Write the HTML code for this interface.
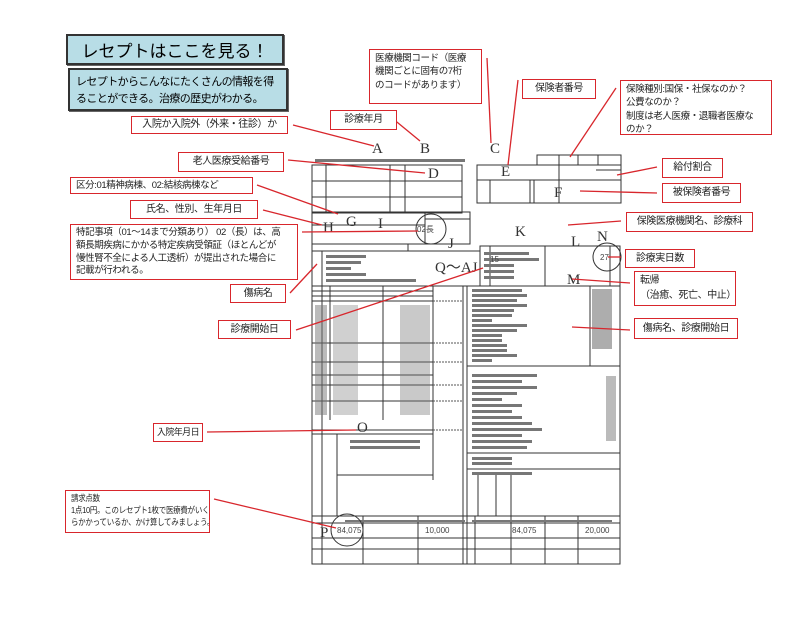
<!DOCTYPE html>
<html><head><meta charset="utf-8">
<style>
html,body{margin:0;padding:0;background:#fff;}
body{width:788px;height:619px;position:relative;overflow:hidden;font-family:"Liberation Sans","Noto Sans CJK JP",sans-serif;}
.b{position:absolute;border:1.5px solid #d8262c;background:#fff;font-size:10px;letter-spacing:-0.4px;color:#222;box-sizing:border-box;display:flex;align-items:center;justify-content:center;line-height:1.4;white-space:nowrap;overflow:hidden;}
.l{justify-content:flex-start;padding-left:5px;}
.w{display:block;padding:2px 2px 0 5px;}
.t{position:absolute;box-sizing:border-box;background:#b8dde6;border:2px solid #333;box-shadow:1px 1px 0 #666;}
svg{position:absolute;left:0;top:0;}
</style></head><body>
<div class="t" style="left:66px;top:34px;width:218px;height:31px;font-size:17px;display:flex;align-items:center;justify-content:center;">レセプトはここを見る！</div>
<div class="t" style="left:68px;top:68px;width:220px;height:43px;font-size:11px;letter-spacing:-0.6px;padding:4px 6px;line-height:1.5;white-space:nowrap;">レセプトからこんなにたくさんの情報を得<br>ることができる。治療の歴史がわかる。</div>

<svg width="788" height="619" viewBox="0 0 788 619">
<g stroke="#333" stroke-width="1" fill="none">
<rect x="312" y="165" width="150" height="48"/>
<line x1="312" y1="181" x2="462" y2="181"/><line x1="312" y1="197" x2="462" y2="197"/>
<line x1="326" y1="165" x2="326" y2="213"/><line x1="390" y1="165" x2="390" y2="213"/><line x1="405" y1="165" x2="405" y2="213"/>
<rect x="477" y="165" width="82" height="38"/><rect x="559" y="165" width="62" height="38"/>
<line x1="477" y1="180" x2="621" y2="180"/><line x1="490" y1="180" x2="490" y2="203"/><line x1="530" y1="180" x2="530" y2="203"/><line x1="534" y1="180" x2="534" y2="203"/>
<rect x="537" y="155" width="84" height="10"/><line x1="559" y1="155" x2="559" y2="165"/><line x1="578" y1="155" x2="578" y2="165"/><line x1="598" y1="155" x2="598" y2="165"/>
<line x1="596" y1="170" x2="621" y2="170"/>
<rect x="312" y="212" width="158" height="32"/><line x1="312" y1="225" x2="425" y2="225"/><line x1="425" y1="212" x2="425" y2="244"/><line x1="425" y1="219" x2="470" y2="219"/>
<rect x="312" y="244" width="96" height="7"/>
<rect x="312" y="251" width="168" height="35"/><line x1="322" y1="251" x2="322" y2="286"/>
<rect x="480" y="246" width="65" height="40"/><rect x="545" y="246" width="75" height="40"/><line x1="490" y1="246" x2="490" y2="286"/><line x1="610" y1="246" x2="610" y2="286"/>
<rect x="312" y="286" width="308" height="278"/>
<line x1="433" y1="286" x2="433" y2="420"/><line x1="463" y1="286" x2="463" y2="564"/><line x1="467" y1="286" x2="467" y2="564"/>
<line x1="322" y1="286" x2="322" y2="564"/><line x1="330" y1="286" x2="330" y2="420"/><line x1="383" y1="286" x2="383" y2="420"/>
<line x1="312" y1="291" x2="433" y2="291"/><line x1="312" y1="296" x2="433" y2="296"/><line x1="312" y1="301" x2="433" y2="301"/>
<line x1="312" y1="343" x2="433" y2="343"/><line x1="312" y1="362" x2="433" y2="362"/><line x1="312" y1="375" x2="433" y2="375"/><line x1="312" y1="385" x2="433" y2="385"/><line x1="312" y1="401" x2="433" y2="401"/>
<line x1="312" y1="430" x2="433" y2="430"/><line x1="312" y1="434" x2="433" y2="434"/><line x1="337" y1="434" x2="337" y2="516"/><line x1="337" y1="475" x2="433" y2="475"/>
<line x1="433" y1="420" x2="433" y2="480"/>
<line x1="467" y1="366" x2="620" y2="366"/><line x1="467" y1="453" x2="620" y2="453"/><line x1="467" y1="469" x2="620" y2="469"/>
<line x1="590" y1="286" x2="590" y2="366"/>
<line x1="478" y1="475" x2="478" y2="516"/><line x1="496" y1="475" x2="496" y2="516"/><line x1="511" y1="475" x2="511" y2="516"/>
<line x1="312" y1="516" x2="620" y2="516"/><line x1="312" y1="523" x2="620" y2="523"/><line x1="312" y1="538" x2="620" y2="538"/><line x1="312" y1="549" x2="620" y2="549"/>
<line x1="363" y1="516" x2="363" y2="564"/><line x1="418" y1="516" x2="418" y2="564"/><line x1="475" y1="516" x2="475" y2="564"/><line x1="511" y1="516" x2="511" y2="564"/><line x1="545" y1="516" x2="545" y2="564"/><line x1="578" y1="516" x2="578" y2="564"/>
</g>
<g stroke="#555" stroke-width="1" stroke-dasharray="2,1">
<line x1="433" y1="301" x2="463" y2="301"/><line x1="433" y1="343" x2="463" y2="343"/><line x1="433" y1="362" x2="463" y2="362"/><line x1="433" y1="385" x2="463" y2="385"/><line x1="433" y1="401" x2="463" y2="401"/><line x1="433" y1="430" x2="463" y2="430"/>
</g>
<g fill="#777">
<rect x="315" y="159" width="150" height="3"/>
<rect x="326" y="255" width="40" height="3"/><rect x="326" y="261" width="35" height="3"/><rect x="326" y="267" width="25" height="3"/><rect x="326" y="273" width="40" height="3"/><rect x="326" y="279" width="90" height="3"/>
<rect x="484" y="252" width="45" height="3"/><rect x="484" y="258" width="55" height="3"/><rect x="484" y="264" width="30" height="3"/><rect x="484" y="270" width="30" height="3"/><rect x="484" y="276" width="30" height="3"/>
<rect x="472" y="289" width="50" height="3"/><rect x="472" y="294" width="55" height="3"/><rect x="472" y="299" width="45" height="3"/><rect x="472" y="304" width="55" height="3"/><rect x="472" y="309" width="42" height="3"/><rect x="472" y="314" width="40" height="3"/><rect x="472" y="319" width="20" height="3"/><rect x="472" y="324" width="55" height="3"/><rect x="472" y="329" width="45" height="3"/><rect x="472" y="334" width="30" height="3"/><rect x="472" y="339" width="30" height="3"/><rect x="472" y="344" width="35" height="3"/><rect x="472" y="349" width="35" height="3"/><rect x="472" y="354" width="45" height="3"/><rect x="472" y="359" width="20" height="3"/>
<rect x="592" y="289" width="20" height="60" opacity=".6"/>
<rect x="472" y="374" width="65" height="3"/><rect x="472" y="380" width="50" height="3"/><rect x="472" y="386" width="65" height="3"/><rect x="472" y="392" width="45" height="3"/><rect x="472" y="398" width="30" height="3"/><rect x="472" y="404" width="50" height="3"/><rect x="472" y="410" width="40" height="3"/><rect x="472" y="416" width="50" height="3"/><rect x="472" y="422" width="60" height="3"/><rect x="472" y="428" width="70" height="3"/><rect x="472" y="434" width="50" height="3"/><rect x="472" y="440" width="60" height="3"/><rect x="472" y="446" width="55" height="3"/>
<rect x="606" y="376" width="10" height="65" opacity=".5"/>
<rect x="472" y="457" width="40" height="3"/><rect x="472" y="462" width="40" height="3"/><rect x="472" y="472" width="60" height="3"/>
<rect x="315" y="305" width="12" height="110" opacity=".5"/><rect x="333" y="305" width="25" height="110" opacity=".35"/>
<rect x="400" y="305" width="30" height="110" opacity=".4"/>
<rect x="350" y="440" width="70" height="3"/><rect x="350" y="446" width="70" height="3"/>
<rect x="472" y="520" width="140" height="2"/><rect x="345" y="520" width="120" height="2"/>
</g>
<g font-family="Liberation Serif,serif" font-size="15" fill="#333">
<text x="372" y="153">A</text><text x="420" y="153">B</text><text x="490" y="153">C</text><text x="428" y="178">D</text><text x="501" y="176">E</text><text x="554" y="197">F</text>
<text x="346" y="226">G</text><text x="323" y="232">H</text><text x="378" y="228">I</text><text x="448" y="248">J</text><text x="515" y="236">K</text><text x="571" y="246">L</text><text x="597" y="241">N</text><text x="567" y="284">M</text>
<text x="435" y="272">Q～AJ</text><text x="357" y="432">O</text><text x="320" y="537">P</text>
</g>
<g font-family="Liberation Sans,sans-serif" font-size="8" fill="#444">
<text x="417" y="232">02長</text><text x="600" y="260">27</text><text x="337" y="533">84,075</text><text x="425" y="533">10,000</text><text x="512" y="533">84,075</text><text x="585" y="533">20,000</text><text x="490" y="262">15</text>
</g>
<g stroke="#333" fill="none" stroke-width="1">
<circle cx="431" cy="229" r="15"/><circle cx="607" cy="257" r="14"/><circle cx="347" cy="530" r="16"/>
</g>
<g stroke="#d8262c" stroke-width="1.3">
<line x1="293" y1="125" x2="374" y2="146"/>
<line x1="392" y1="118" x2="420" y2="141"/>
<line x1="487" y1="58" x2="491" y2="143"/>
<line x1="518" y1="80" x2="508" y2="165"/>
<line x1="616" y1="88" x2="570" y2="157"/>
<line x1="288" y1="160" x2="425" y2="173"/>
<line x1="257" y1="185" x2="338" y2="214"/>
<line x1="263" y1="210" x2="322" y2="225"/>
<line x1="302" y1="232" x2="418" y2="231"/>
<line x1="290" y1="293" x2="317" y2="264"/>
<line x1="296" y1="330" x2="483" y2="268"/>
<line x1="657" y1="167" x2="617" y2="175"/>
<line x1="657" y1="193" x2="580" y2="191"/>
<line x1="621" y1="221" x2="568" y2="225"/>
<line x1="621" y1="257" x2="608" y2="257"/>
<line x1="630" y1="283" x2="572" y2="279"/>
<line x1="630" y1="330" x2="572" y2="327"/>
<line x1="207" y1="432" x2="356" y2="430"/>
<line x1="214" y1="499" x2="336" y2="528"/>
</g>
</svg>

<div class="b" style="left:131px;top:116px;width:157px;height:18px;">入院か入院外（外来・往診）か</div>
<div class="b" style="left:330px;top:110px;width:67px;height:20px;">診療年月</div>
<div class="b w" style="left:369px;top:49px;width:113px;height:55px;font-size:9.5px;">医療機関コード（医療<br>機関ごとに固有の7桁<br>のコードがあります）</div>
<div class="b" style="left:522px;top:79px;width:74px;height:20px;">保険者番号</div>
<div class="b w" style="left:620px;top:80px;width:152px;height:55px;font-size:9.5px;">保険種別:国保・社保なのか？<br>公費なのか？<br>制度は老人医療・退職者医療な<br>のか？</div>
<div class="b" style="left:178px;top:152px;width:106px;height:20px;">老人医療受給番号</div>
<div class="b l" style="left:70px;top:177px;width:183px;height:17px;font-size:9.5px;">区分:01精神病棟、02:結核病棟など</div>
<div class="b" style="left:130px;top:200px;width:128px;height:19px;">氏名、性別、生年月日</div>
<div class="b w" style="left:70px;top:224px;width:228px;height:56px;font-size:9.5px;line-height:1.35;">特記事項（01～14まで分類あり） 02（長）は、高<br>額長期疾病にかかる特定疾病受領証（ほとんどが<br>慢性腎不全による人工透析）が提出された場合に<br>記載が行われる。</div>
<div class="b" style="left:230px;top:284px;width:56px;height:19px;">傷病名</div>
<div class="b" style="left:218px;top:320px;width:73px;height:19px;">診療開始日</div>
<div class="b" style="left:662px;top:158px;width:61px;height:20px;">給付割合</div>
<div class="b" style="left:662px;top:183px;width:79px;height:20px;">被保険者番号</div>
<div class="b" style="left:626px;top:212px;width:127px;height:20px;">保険医療機関名、診療科</div>
<div class="b" style="left:625px;top:249px;width:70px;height:19px;">診療実日数</div>
<div class="b w" style="left:634px;top:271px;width:102px;height:35px;line-height:1.45;padding-top:2px;">転帰<br>（治癒、死亡、中止）</div>
<div class="b" style="left:634px;top:318px;width:104px;height:21px;">傷病名、診療開始日</div>
<div class="b" style="left:153px;top:423px;width:50px;height:19px;font-size:9px;letter-spacing:-0.6px;">入院年月日</div>
<div class="b w" style="left:65px;top:490px;width:145px;height:43px;font-size:8.5px;line-height:1.4;letter-spacing:-0.3px;"><div style="transform:scaleX(0.88);transform-origin:0 0;">請求点数<br>1点10円。このレセプト1枚で医療費がいく<br>らかかっているか、かけ算してみましょう。</div></div>
</body></html>
